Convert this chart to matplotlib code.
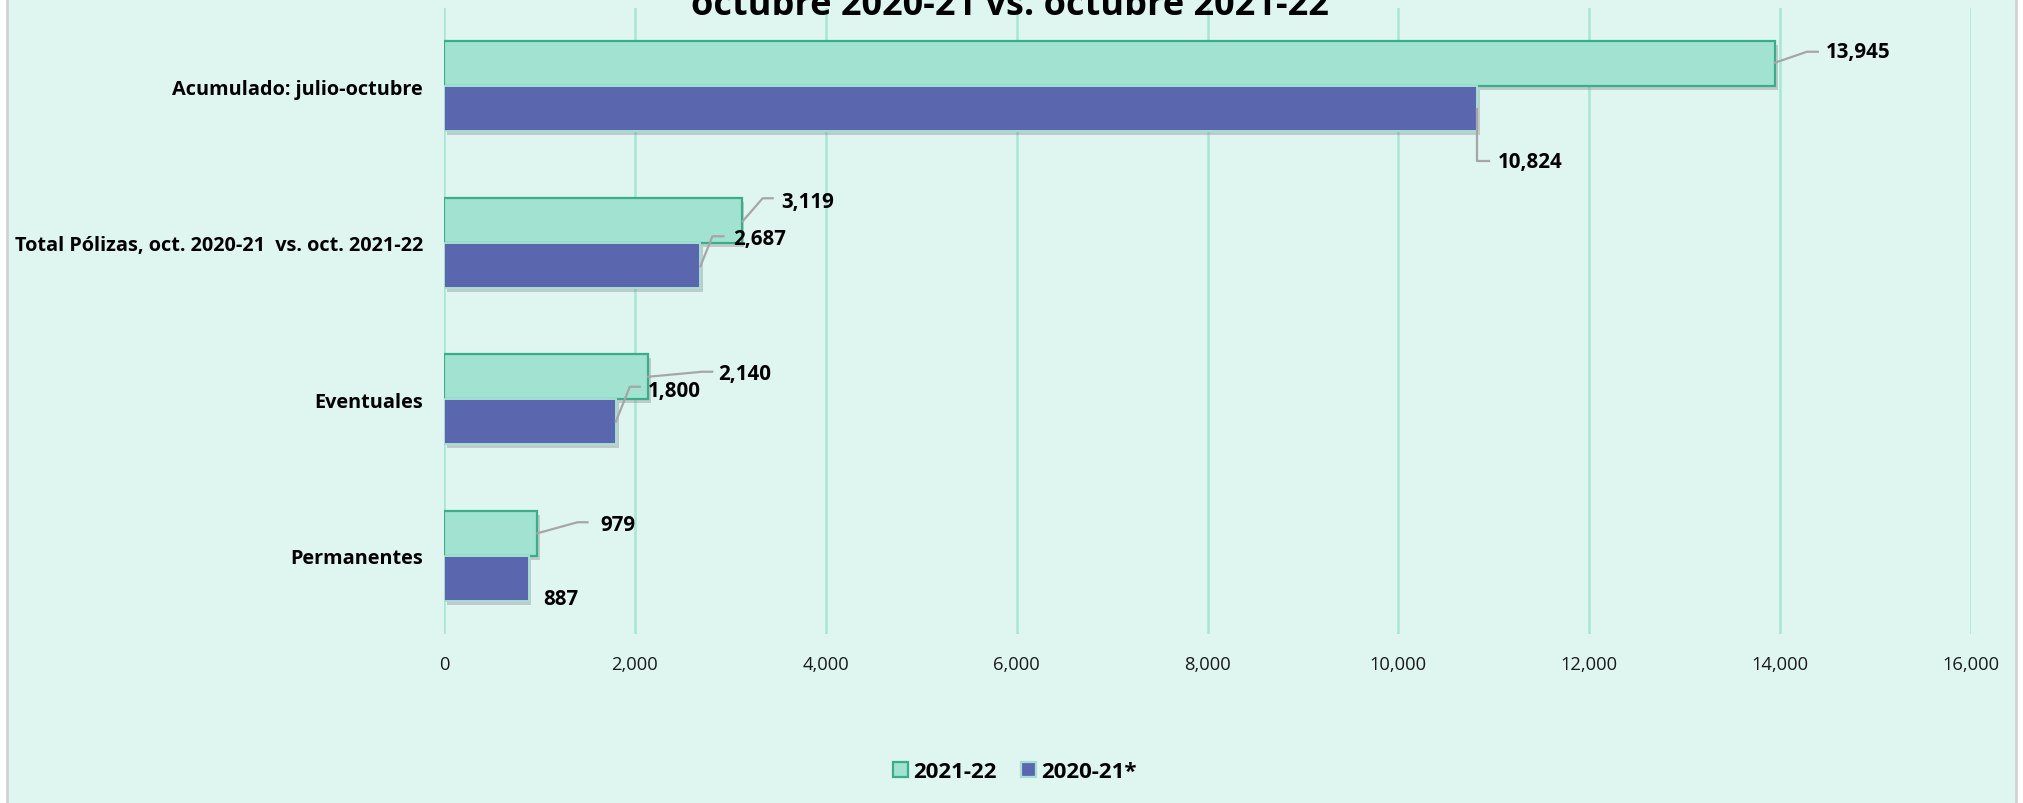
import matplotlib.pyplot as plt
import matplotlib.patheffects as pe
from matplotlib.patches import Rectangle, Patch
from matplotlib.transforms import Affine2D, ScaledTranslation
from matplotlib.ticker import FuncFormatter

plt.rcParams['font.family'] = ['Open Sans', 'DejaVu Sans']

# data (bottom to top)
categories = ['Permanentes', 'Eventuales', 'Total Pólizas, oct. 2020-21  vs. oct. 2021-22', 'Acumulado: julio-octubre']
vals_2122 = [979, 2140, 3119, 13945]
vals_2021 = [887, 1800, 2687, 10824]
series_names = ['2021-22', '2020-21*']
xticks = [0, 2000, 4000, 6000, 8000, 10000, 12000, 14000, 16000]

# label placement in pixels relative to bar end (x right, y down): leader start, elbow, end, text
lab_2122 = [((0, 0), (40, -11), (50, -11), (63, -9)),
            ((0, 0), (54, -5), (64, -5), (70, -3)),
            ((1, 1), (21, -22), (31, -22), (40, -19)),
            ((0, -1), (32, -12), (43, -12), (51, -12))]
lab_2021 = [(None, None, None, (15, 20)),
            ((0, 0), (14, -35), (24, -35), (32, -31)),
            ((0, 1), (12, -29), (23, -29), (33, -27)),
            ((0, 0), (0, 52), (12, 52), (21, 53))]

W, H = 2023, 804
bg = '#DFF5EF'
green_fill, green_edge = '#A2E2D1', '#3AAE88'
blue_fill, blue_edge = '#5A67AF', '#A6DFD5'
grid_c = '#A8E6D3'

fig = plt.figure(figsize=(W / 100, H / 100), dpi=100, facecolor='white')
fig.patches.append(Rectangle((7 / W, -0.01), (2016 - 7) / W, 1.02, transform=fig.transFigure,
                             facecolor=bg, edgecolor='#D3D3D3', linewidth=2, zorder=-10))

ax = fig.add_axes([444 / W, 1 - 635 / H, (1971 - 444) / W, (635 - 9) / H])
ax.set_facecolor(bg)
ax.patch.set_alpha(0)

ypos = list(range(len(categories)))
bh = 0.2875
shadow = [pe.withSimplePatchShadow(offset=(2, -3), shadow_rgbFace='#808080', alpha=0.35)]
ax.barh([y + bh / 2 for y in ypos], vals_2122, height=bh, color=green_fill, edgecolor=green_edge,
        linewidth=1.6, path_effects=shadow, zorder=3)
ax.barh([y - bh / 2 for y in ypos], vals_2021, height=bh, color=blue_fill, edgecolor=blue_edge,
        linewidth=1.4, path_effects=shadow, zorder=4)

ax.set_xlim(0, 16000)
ax.set_ylim(-0.5, len(categories) - 0.5)
ax.set_xticks(xticks)
ax.xaxis.set_major_formatter(FuncFormatter(lambda v, p: f'{int(v):,}'))
ax.set_yticks(ypos)
ax.set_yticklabels(categories, fontsize=14.3, fontweight='bold')
ax.tick_params(axis='y', length=0, pad=15)
ax.tick_params(axis='x', length=0, pad=15, labelsize=13.2, labelcolor='#1a1a1a')
ax.grid(axis='x', color=grid_c, linewidth=1.8, zorder=0)
for s in ax.spines.values():
    s.set_visible(False)


def px_trans(x, y):
    return Affine2D().scale(1, -1) + ScaledTranslation(x, y, ax.transData)


def put_labels(vals, offs, yoff):
    for y, v, (st, el, en, tx) in zip(ypos, vals, offs):
        yc = y + yoff
        tr = px_trans(v, yc)
        if st is not None:
            ax.plot([st[0], el[0], en[0]], [st[1], el[1], en[1]], color='#A6A6A6', linewidth=1.6,
                    transform=tr, zorder=6, clip_on=False)
        ax.text(tx[0], tx[1], f'{v:,}', transform=tr, ha='left', va='center',
                fontsize=14.8, fontweight='bold', zorder=7)


put_labels(vals_2122, lab_2122, bh / 2)
put_labels(vals_2021, lab_2021, -bh / 2)

fig.text(1010 / W, 1 - 15 / H, 'octubre 2020-21 vs. octubre 2021-22', ha='center', va='baseline',
         fontsize=26, fontweight='bold')

handles = [Patch(facecolor=green_fill, edgecolor=green_edge, linewidth=1.6),
           Patch(facecolor=blue_fill, edgecolor=blue_edge, linewidth=1.6)]
fig.legend(handles, series_names, loc='center', bbox_to_anchor=(1015 / W, 1 - 773 / H), ncol=2,
           frameon=False, prop={'weight': 'bold', 'size': 16}, handlelength=0.65, handleheight=0.65,
           handletextpad=0.25, columnspacing=1.1)

fig.savefig('out.png', dpi=100, facecolor='white')
